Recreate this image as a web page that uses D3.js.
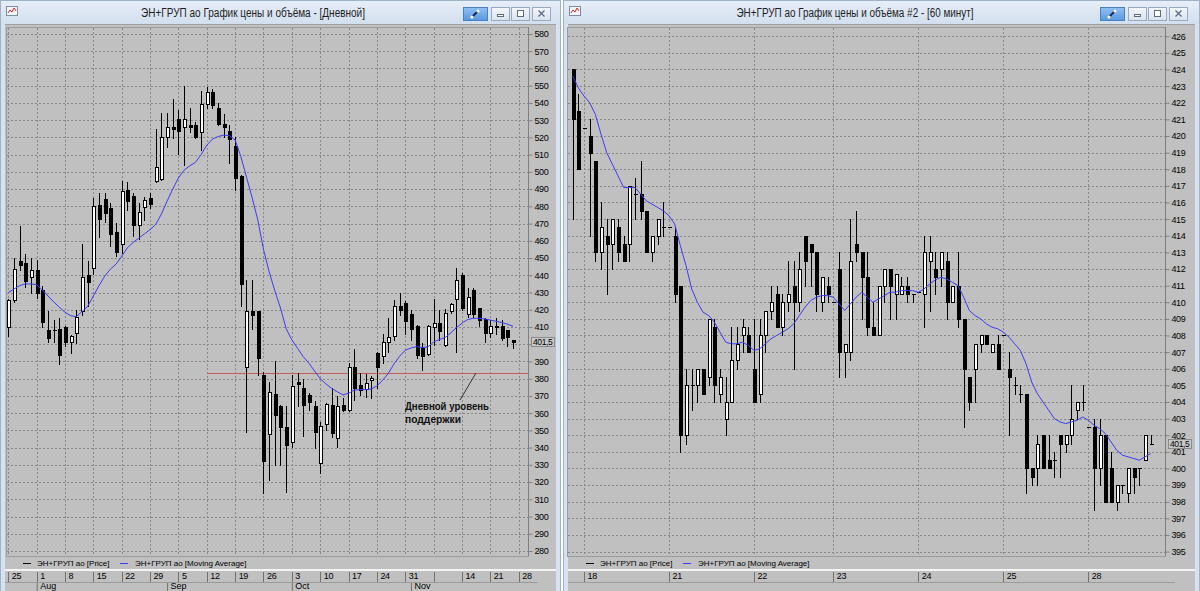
<!DOCTYPE html>
<html><head><meta charset="utf-8">
<script src="https://cdn.jsdelivr.net/npm/d3@7/dist/d3.min.js"></script>
<style>
html,body{margin:0;padding:0;background:#fff;overflow:hidden}
svg{display:block}
text{font-family:"Liberation Sans",Arial,sans-serif}
</style></head><body>
<svg id="chart" width="1200" height="591"></svg>
<script>
// ---------------- DAILY DATA (Jul 25 .. Nov 28) ----------------
const dailyOpen=[
410,425.5,448,447,439,443,431.5,408,408.5,409,
410,401.5,406.5,419,440,444,481,484,479,465,
458,489.5,486,469,479.5,485,494.5,496,520.5,526,
530.5,526,527,527,523,539.5,546.5,537,528,524,
515,497.5,387,419,419,382,348,371,364,352,
343.5,378,374.5,370.5,364,331,353.5,365,345.5,365,
362,387,376.5,374,379.5,395,393,401.5,404.5,422,
424,417.5,410.5,398,394.5,410,412.5,399.5,419,426,
440,417.5,431.5,421,414.5,406.5,410.5,410.5,408,402.5];
const dailyHigh=[
426,450,468.5,452.5,450,449,433.5,419,414,415,
410.5,405.5,420,458,448,485,487.5,487.5,482,470.5,
494.5,494,487.5,482,485.5,488,525,534,534,542,
536,550,537,529,547,549.5,548,540,533.5,527,
520.5,498,437.5,437.5,419.5,384,378,390,364.5,364,
382,383,380,371.5,367,355,366,374.5,370,368.5,
389,397.5,383,382.5,381.5,395.5,406,415,425.5,429.5,
425,420,411,400.5,411,426,420,420.2,424,444,
441.5,432.5,432.5,421,415,414,415,414,408,402.5];
const dailyLow=[
405,424.5,443,433,429.5,427,410,401.5,401.5,388.5,
399,395,400.5,417,422,441,462,471,457,451,
453,478,463,461,472,479,494,495,514.5,519.5,
510.5,504,523,519.5,512.5,537,537,527,520,505,
489.5,422,349,409,382,313.5,321,330,330,314.5,
340.5,364,346.5,362,339.5,325,350,346,340.5,361.5,
361,367.5,370.5,369.5,368.5,374.5,389,395.5,402.5,417,
406,402.5,392,385,394,399.5,402.5,399,418,395.5,
420,416,416,410.5,401.5,404,406,402.5,399,398];
const dailyClose=[
425.5,443.5,446,436.5,443,429.5,413,403.5,408,394,
401.5,405,416,439,436,480,472.5,476,464,453.5,
489,483,469,477,483.5,481.5,503,520,526,525,
523.5,530.5,526,520,539.5,546.5,539,527.5,526,519,
496.5,435,419,417,392,332,372.5,359,352,341.5,
375.5,377,365,366.5,349,352.5,365.5,348.5,364,362,
386.5,374.5,373.5,377.5,380.5,386.5,401.5,404,422,420,
413.5,409,393.5,393,410.5,412.5,407.5,418,423.5,437.5,
421,427.5,417.5,414,406.5,410.5,410,403.5,404,401.5];
const dailyMA=[
430,432,434,435,435,434.5,431.5,428,424.5,421.5,
418.5,416.5,416,419,422,428,434,439.5,443.5,446.5,
451,456,459,461.5,464,466.5,469.5,475.5,483,490,
496.5,501,503.5,505.5,510,515.5,519,520.5,521.3,521,
518.5,509,497,485,472,455,442,431,421,409,
402.5,397.7,392.8,389,384.5,380,377,374.4,372.4,370.6,
371.5,373.4,373.6,373.7,374,375.8,379,383,388.5,393,
396.5,397.8,398.6,398,398.5,401.3,402.7,403.8,406.5,409.5,
412.2,414.3,415,415,414.7,414,413.3,412.6,411.6,410.4];
// week ticks (candle slot index) and labels
const dailyTickIdx=[0,5,10,15,20,25,30,35,40,45,50,55,60,65,70,75,80,85,90];
const dailyTickLabels=["25","1","8","15","22","29","5","12","19","26","3","10","17","24","31","","14","21","28"];
const dailyMonthIdx=[5,28,50,71];
const dailyMonthLabels=["Aug","Sep","Oct","Nov"];
const dailyPriceTicks=d3.range(280,581,10);
const dailySupport=383.3;
const dailyLast=401.5;

// ---------------- HOURLY DATA (Nov 18 .. Nov 28) ----------------
const hourlyOpen=[
424,421.5,420.5,420,418.5,413,414,413.5,414.5,413.5,
413.5,416.5,416.5,415.5,413,414,414.5,414.5,414,411,
402,405,405,406,405.5,408.5,404.5,403,404,406.5,
408,408,406,404.5,408,409.5,410.5,408.5,410,411,
410,414,413.5,413,410,411,410,412,407,407,
413.5,413,411.5,408.5,408,411,412,410.5,410.5,411,
410.5,410.6,410.5,412.5,412,412,412.5,410,411,409,
405.5,406,407.5,408,407,407.5,408,406,405,404.5,
404.5,400,400,402,400.5,400.5,402,401.5,402,403.5,
404,402.5,402.5,400,402,400,398,399,398.5,400,
400,400.5,401.5];
const hourlyHigh=[
424,422.5,420.5,421,418.5,416,415,415,415,414,
417,417.5,418.5,415.5,414,415,416,414.5,414.5,411,
406,406,406,406,409,409,406,405.5,408.5,408.5,
409,408.5,409,409,409.5,411,411,410.5,412.5,412.5,
413,414,413.5,413,411.5,411.5,410,413,407.5,415,
415.5,413,413,410,411,412,412,411.7,411.5,411.5,
410.5,410.6,414,414,413,413,413,411,413,409,
405.5,407.5,408,408,407.5,408,408,407,405.5,405,
404.5,400,402,402,402,401,402,402,405,404,
405,402.5,403,403,402,401,399,399,400,400,
400,402,402];
const hourlyLow=[
415,418,420.5,414,412.5,412,410.5,412,412.5,412.5,
412.5,415,415,413,412.5,413.5,414,414.5,410,401,
401.5,403.5,404,404.5,405,404,404,402,404,406,
407,407,404,404,407,409,408.5,408,409.5,406,
409.5,411,411,409.5,409.5,410,410,405.5,405.5,406.5,
412.5,409,408,408,408,410,409,409,410.5,410,
410,410.6,408.5,409.5,410.5,411,409,410,408.5,402.5,
403.5,404,407,407.5,407,406,408,402,404.5,404,
398.5,399,399,400,400,399.5,399.5,401,401.5,403,
403.5,402.5,397.5,399,398,398,397.5,398.5,398,398.5,
399,400.5,401.5];
const hourlyClose=[
421,418,420.5,419,413,414.5,413.5,415,413,412.5,
417,416.5,415.5,413,414,415,414.5,414.5,410.5,402,
405,405,406,404.5,409,405,405.5,404,406.5,407.5,
408.5,407,404,408,409.5,410,408.5,410,410.5,410,
412,412.5,413,410.5,411.5,410.5,410,407,407.5,412.5,
413,411.5,408.5,408,411,412,411,411.7,411,410.5,
410.5,410.6,413,413,411.5,413,410,411,409,406,
404,407.5,408,407.5,407.5,406,408,405.5,405,404.5,
400,399.5,401.5,400,400,400.5,401.5,402,403,404,
404,402.5,400,402,398,398,399,399,400,399.5,
400,402,401.5];
const hourlyMA=[
423.6,422.9,422.4,422,421.3,420.1,419,418.3,417.6,416.9,
416.9,416.9,416.5,416.1,415.9,415.7,415.5,415.2,414.7,413.4,
412.2,410.8,410,409.4,409.2,408.8,408.2,407.6,407.5,407.5,
407.6,407.4,407.1,407.2,407.5,407.8,408,408.2,408.4,408.7,
409.2,409.7,410.1,410.3,410.4,410.4,410.3,409.9,409.5,409.9,
410.3,410.6,410.3,410,410.2,410.4,410.6,410.6,410.7,410.7,
410.7,410.6,410.8,411.1,411.35,411.5,411.4,411.2,411,410.3,
409.5,409.2,409,408.7,408.5,408.4,408.2,407.9,407.5,407.1,
406.3,405.2,404.5,404,403.5,403,402.8,402.7,402.8,402.9,
403.1,402.9,402.6,402.4,402.1,401.6,401.1,400.8,400.7,400.6,
400.5,400.7,400.9];
const hourlyTickIdx=[2,17,32,46,61,76,91];
const hourlyTickLabels=["18","21","22","23","24","25","28"];
const hourlyPriceTicks=d3.range(395,427,1);
const hourlyLast=401.5;

const seriesNames=["ЭН+ГРУП ао [Price]","ЭН+ГРУП ао [Moving Average]"];

// ---------------- RENDERING ----------------
const svg=d3.select("#chart");
const defs=svg.append("defs");
const tg=defs.append("linearGradient").attr("id","tbar").attr("x1",0).attr("y1",0).attr("x2",0).attr("y2",1);
tg.append("stop").attr("offset",0).attr("stop-color","#e6eef8");
tg.append("stop").attr("offset",1).attr("stop-color","#d2dfee");
const bg=defs.append("linearGradient").attr("id","btn").attr("x1",0).attr("y1",0).attr("x2",0).attr("y2",1);
bg.append("stop").attr("offset",0).attr("stop-color","#f4f7fb");
bg.append("stop").attr("offset",1).attr("stop-color","#d9e2ee");
const bb=defs.append("linearGradient").attr("id","btnb").attr("x1",0).attr("y1",0).attr("x2",0).attr("y2",1);
bb.append("stop").attr("offset",0).attr("stop-color","#8fc0f4");
bb.append("stop").attr("offset",1).attr("stop-color","#5a98e0");

svg.append("rect").attr("width",1200).attr("height",591).attr("fill","#ffffff");

function drawPanel(o){
  const g=svg.append("g");
  // window frame
  g.append("rect").attr("x",o.x0+0.5).attr("y",0.5).attr("width",o.x1-o.x0-1).attr("height",600)
    .attr("fill","#d6e2f0").attr("stroke","#9fb2c8");
  g.append("rect").attr("x",o.x0+1).attr("y",1).attr("width",o.x1-o.x0-2).attr("height",23).attr("fill","url(#tbar)");
  // icon
  g.append("rect").attr("x",o.x0+6.5).attr("y",6.5).attr("width",11).attr("height",9).attr("fill","#f4f4f4").attr("stroke","#7d8fa8");
  g.append("path").attr("d",`M${o.x0+8},${13} l2,-3 l2,2 l2,-4 l2,3`).attr("fill","none").attr("stroke","#d03030").attr("stroke-width",1);
  // title
  g.append("text").attr("x",o.titleX).attr("y",17).attr("text-anchor","middle").attr("font-size",12)
    .attr("fill","#1e1e1e").attr("textLength",o.titleW).attr("lengthAdjust","spacingAndGlyphs").text(o.title);
  // buttons
  const bx=o.btnX;
  g.append("rect").attr("x",bx+0.5).attr("y",7.5).attr("width",24).attr("height",13).attr("fill","url(#btnb)").attr("stroke","#4a7fc0");
  g.append("path").attr("d",`M${bx+9},${17} l6,-6`).attr("stroke","#1a2a50").attr("stroke-width",2);
  g.append("circle").attr("cx",bx+9).attr("cy",17).attr("r",1.6).attr("fill","#fff");
  g.append("circle").attr("cx",bx+15).attr("cy",11).attr("r",1.6).attr("fill","#fff");
  [[28,"min"],[48,"max"],[69,"close"]].forEach(([dx,t])=>{
    const x=bx+dx;
    g.append("rect").attr("x",x+0.5).attr("y",7.5).attr("width",18).attr("height",13).attr("fill","url(#btn)").attr("stroke","#9aa9bd");
    if(t==="min") g.append("rect").attr("x",x+6.5).attr("y",14.5).attr("width",6).attr("height",2).attr("fill","#fff").attr("stroke","#5d6b80");
    if(t==="max") g.append("rect").attr("x",x+6.5).attr("y",10.5).attr("width",6).attr("height",6).attr("fill","#fff").attr("stroke","#5d6b80");
    if(t==="close") g.append("path").attr("d",`M${x+6.5},${10.5} l6,6 M${x+12.5},${10.5} l-6,6`).attr("stroke","#5d6b80").attr("stroke-width",1.3);
  });
  // client area
  g.append("rect").attr("x",o.x0+5).attr("y",24).attr("width",o.x1-o.x0-10).attr("height",567).attr("fill","#c0c0c0");
  g.append("line").attr("x1",o.x0+5).attr("x2",o.x1-5).attr("y1",24.5).attr("y2",24.5).attr("stroke","#a0a0a0");
  // plot border
  g.append("rect").attr("x",o.plotL+0.5).attr("y",o.plotT+0.5).attr("width",o.plotR-o.plotL).attr("height",o.plotB-o.plotT)
    .attr("fill","#c0c0c0").attr("stroke","#9c9c9c");

  const x=d3.scaleLinear().domain(o.xDomain).range(o.xRange);
  const y=d3.scaleLinear().domain(o.yDomain).range(o.yRange);

  // grid
  const grid=g.append("g").attr("stroke","#888").attr("stroke-dasharray","2,2").attr("shape-rendering","crispEdges");
  o.priceTicks.forEach(v=>{
    const yy=Math.round(y(v))+0.5;
    grid.append("line").attr("x1",o.plotL+1).attr("x2",o.plotR).attr("y1",yy).attr("y2",yy);
  });
  o.tickIdx.forEach(v=>{
    const xx=Math.round(x(v))+0.5;
    if(xx<o.plotR-2) grid.append("line").attr("x1",xx).attr("x2",xx).attr("y1",o.plotT+1).attr("y2",o.plotB);
  });

  // support line
  if(o.support!==undefined){
    const sy=Math.round(y(o.support))+0.5;
    g.append("line").attr("x1",207).attr("x2",o.plotR).attr("y1",sy).attr("y2",sy).attr("stroke","#c85a5a").attr("stroke-width",1);
  }

  // candles
  const cg=g.append("g").attr("shape-rendering","crispEdges");
  o.open.forEach((op,i)=>{
    const cx=Math.round(x(i));
    const hi=o.high[i],lo=o.low[i],cl=o.close[i];
    cg.append("line").attr("x1",cx+0.5).attr("x2",cx+0.5).attr("y1",Math.round(y(hi))).attr("y2",Math.round(y(lo))+1).attr("stroke","#000");
    const top=Math.round(y(Math.max(op,cl))), bot=Math.round(y(Math.min(op,cl)));
    if(bot-top<=1){
      cg.append("rect").attr("x",cx-1).attr("y",top).attr("width",4).attr("height",Math.max(1,bot-top+1)).attr("fill","#000");
    } else if(cl>op){
      cg.append("rect").attr("x",cx-1+0.5).attr("y",top+0.5).attr("width",3).attr("height",bot-top).attr("fill","#fff").attr("stroke","#000");
    } else {
      cg.append("rect").attr("x",cx-1).attr("y",top).attr("width",4).attr("height",bot-top+1).attr("fill","#000");
    }
  });

  // moving average
  g.append("path").datum(o.ma).attr("fill","none").attr("stroke","#3c3cf0").attr("stroke-width",1)
    .attr("d",d3.line().x((d,i)=>x(i)).y(d=>y(d)));

  // y axis
  const ly=y(o.last);
  const ax=g.append("g").attr("transform",`translate(${o.plotR+0.5},0)`)
    .call(d3.axisRight(y).tickValues(o.priceTicks).tickSize(4).tickPadding(2).tickFormat(d3.format("d")));
  ax.select(".domain").attr("stroke","#808080").attr("d",`M0,${o.plotT}V${o.plotB}`);
  ax.selectAll(".tick line").attr("stroke","#808080");
  ax.selectAll(".tick text").attr("font-size",9).attr("fill","#000").attr("font-family","Liberation Sans, Arial, sans-serif").attr("letter-spacing","-0.4");
  ax.selectAll(".tick").filter(d=>Math.abs(y(d)-ly)<6).select("text").remove();
  // last price box
  g.append("rect").attr("x",o.plotR+3.5).attr("y",Math.round(ly)-4.5).attr("width",23).attr("height",9).attr("fill","#c8c8c8").attr("stroke","#8a8a8a");
  g.append("text").attr("x",o.plotR+5).attr("y",Math.round(ly)+3).attr("font-size",8.5).attr("letter-spacing","-0.4").attr("fill","#000").text(String(o.last).replace(".",","));

  // legend
  const legY=563;
  g.append("line").attr("x1",o.x0+23).attr("x2",o.x0+31).attr("y1",legY+0.5).attr("y2",legY+0.5).attr("stroke","#000");
  g.append("text").attr("x",o.x0+37).attr("y",legY+3).attr("font-size",8).attr("fill","#000").text(seriesNames[0]);
  g.append("line").attr("x1",o.x0+120).attr("x2",o.x0+128).attr("y1",legY+0.5).attr("y2",legY+0.5).attr("stroke","#3c3cf0");
  g.append("text").attr("x",o.x0+135).attr("y",legY+3).attr("font-size",8).attr("fill","#000").text(seriesNames[1]);

  // separator
  g.append("rect").attr("x",o.x0+5).attr("y",569).attr("width",o.x1-o.x0-10).attr("height",2).attr("fill","#f4f4f4");
  // date axis
  const dx=g.append("g").attr("transform","translate(0,572)")
    .call(d3.axisBottom(x).tickValues(o.tickIdx).tickSize(10).tickFormat((d,i)=>o.tickLabels[i]));
  dx.select(".domain").remove();
  dx.selectAll(".tick line").attr("stroke","#707070").attr("shape-rendering","crispEdges");
  dx.selectAll(".tick text").attr("font-size",9).attr("fill","#000").attr("text-anchor","start").attr("x",3).attr("y",1).attr("dy","0.71em").attr("letter-spacing","-0.3");
  g.append("line").attr("x1",o.x0+5).attr("x2",o.plotR+10).attr("y1",582.5).attr("y2",582.5).attr("stroke","#9a9a9a");
  if(o.monthIdx){
    const mx=g.append("g").attr("transform","translate(0,583)")
      .call(d3.axisBottom(x).tickValues(o.monthIdx).tickSize(8).tickFormat((d,i)=>o.monthLabels[i]));
    mx.select(".domain").remove();
    mx.selectAll(".tick line").attr("stroke","#707070");
    mx.selectAll(".tick text").attr("font-size",9).attr("fill","#000").attr("text-anchor","start").attr("x",3).attr("y",0).attr("dy","0.71em");
  }
  return {g,x,y};
}

const L=drawPanel({x0:0,x1:561,plotL:6,plotR:528,plotT:27,plotB:556,
  title:"ЭН+ГРУП ао График цены и объёма - [Дневной]",titleX:253,titleW:224,btnX:463,
  xDomain:[0,89],xRange:[8.3,513],yDomain:[280,580],yRange:[551,34],
  open:dailyOpen,high:dailyHigh,low:dailyLow,close:dailyClose,ma:dailyMA,
  priceTicks:dailyPriceTicks,tickIdx:dailyTickIdx,tickLabels:dailyTickLabels,
  monthIdx:dailyMonthIdx,monthLabels:dailyMonthLabels,support:dailySupport,last:dailyLast});

const R=drawPanel({x0:563,x1:1200,plotL:567,plotR:1165,plotT:27,plotB:556,
  title:"ЭН+ГРУП ао График цены и объёма #2 - [60 минут]",titleX:855,titleW:237,btnX:1100,
  xDomain:[0,102],xRange:[572.7,1150.7],yDomain:[395,426],yRange:[551.6,36.25],
  open:hourlyOpen,high:hourlyHigh,low:hourlyLow,close:hourlyClose,ma:hourlyMA,
  priceTicks:hourlyPriceTicks,tickIdx:hourlyTickIdx,tickLabels:hourlyTickLabels,last:hourlyLast});

// annotation on daily chart
const ann=L.g.append("g");
ann.append("line").attr("x1",476).attr("y1",L.y(dailySupport)).attr("x2",460).attr("y2",400).attr("stroke","#333").attr("stroke-width",1);
ann.append("text").attr("x",405).attr("y",410).attr("font-size",10).attr("font-weight","bold").attr("fill","#111")
  .attr("textLength",84).attr("lengthAdjust","spacingAndGlyphs").text("Дневной уровень");
ann.append("text").attr("x",405).attr("y",423).attr("font-size",10).attr("font-weight","bold").attr("fill","#111")
  .attr("textLength",56).attr("lengthAdjust","spacingAndGlyphs").text("поддержки");
</script>
</body></html>
